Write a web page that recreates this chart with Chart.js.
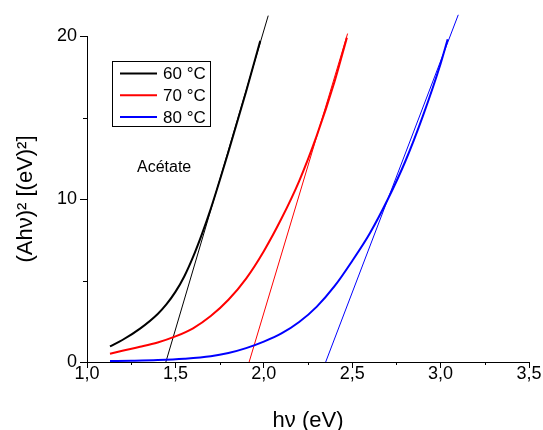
<!DOCTYPE html>
<html>
<head>
  <meta charset="utf-8">
  <title>Tauc - Acétate</title>
  <script src="https://cdn.jsdelivr.net/npm/chart.js"></script>
  <style>
    * { margin: 0; padding: 0; box-sizing: border-box; }
    html, body { width: 100%; height: 100%; background: #fff; }
    #wrap { width: 543px; height: 430px; }
  </style>
</head>
<body>
  <div id="wrap"><canvas id="tauc" width="543" height="430"></canvas></div>
  <script>
    // hv (eV) et (A hv)^2 ((eV)^2)
    const hv60 = [1.13, 1.2, 1.3, 1.4, 1.45, 1.5, 1.55, 1.6, 1.65, 1.7, 1.8, 1.9, 1.98];
    const ah60 = [0.96, 1.35, 2.05, 2.95, 3.55, 4.3, 5.25, 6.45, 7.85, 9.4, 12.9, 16.6, 19.7];

    const hv70 = [1.13, 1.2, 1.3, 1.4, 1.5, 1.6, 1.7, 1.8, 1.9, 2.0, 2.1, 2.2, 2.3, 2.4, 2.47];
    const ah70 = [0.51, 0.69, 0.93, 1.2, 1.57, 2.07, 2.82, 3.82, 5.12, 6.8, 8.8, 11.1, 13.9, 17.2, 19.9];

    const hv80 = [1.13, 1.25, 1.4, 1.55, 1.7, 1.8, 1.9, 2.0, 2.1, 2.2, 2.3, 2.4, 2.5, 2.6, 2.7, 2.8, 2.9, 3.0, 3.04];
    const ah80 = [0.06, 0.08, 0.12, 0.2, 0.35, 0.55, 0.85, 1.25, 1.75, 2.45, 3.4, 4.65, 6.2, 7.9, 9.95, 12.3, 15.1, 18.3, 19.8];

    // droites d'extrapolation (debut, fin)
    const fit60X = [1.446, 2.025], fit60Y = [0, 21.25];
    const fit70X = [1.917, 2.474], fit70Y = [0, 20.15];
    const fit80X = [2.35, 3.10], fit80Y = [0, 21.3];

    const seriesLabels = ['60 °C', '70 °C', '80 °C'];
    const seriesColors = ['#000000', '#ff0000', '#0000ff'];
    const sampleName = 'Acétate';

    const xTickValues = [1.0, 1.5, 2.0, 2.5, 3.0, 3.5];
    const xTickLabels = ['1,0', '1,5', '2,0', '2,5', '3,0', '3,5'];
    const xMinor = [1.25, 1.75, 2.25, 2.75, 3.25];
    const yTickValues = [0, 10, 20];
    const yTickLabels = ['0', '10', '20'];
    const yMinor = [5, 15];

    const FONT = "'Liberation Sans', Arial, sans-serif";

    function pts(xs, ys) {
      return xs.map((v, i) => ({ x: v, y: ys[i] }));
    }

    function curve(label, xs, ys, color) {
      return {
        label: label, data: pts(xs, ys), showLine: true, clip: false,
        borderColor: color, backgroundColor: color, borderWidth: 2,
        pointRadius: 0, cubicInterpolationMode: 'monotone', fill: false
      };
    }
    function fitLine(xs, ys, color) {
      return {
        label: '', data: pts(xs, ys), showLine: true, clip: false,
        borderColor: color, borderWidth: 1, pointRadius: 0, fill: false
      };
    }

    // ticks secondaires, legende et nom de l'echantillon
    const decor = {
      id: 'decor',
      afterDraw(chart) {
        const { ctx, scales: { x, y } } = chart;
        ctx.save();
        ctx.strokeStyle = '#000';
        ctx.lineWidth = 1;
        ctx.beginPath();
        xMinor.forEach(v => {
          const px = Math.round(x.getPixelForValue(v)) + 0.5;
          ctx.moveTo(px, y.bottom); ctx.lineTo(px, y.bottom + 3);
        });
        yMinor.forEach(v => {
          const py = Math.round(y.getPixelForValue(v)) + 0.5;
          ctx.moveTo(x.left, py); ctx.lineTo(x.left - 4, py);
        });
        ctx.stroke();

        // legende
        ctx.strokeRect(112.5, 61.5, 98, 65);
        ctx.font = '17px ' + FONT;
        ctx.textBaseline = 'middle';
        ctx.fillStyle = '#000';
        seriesLabels.forEach((lab, i) => {
          const ly = 73.5 + i * 21.7;
          ctx.strokeStyle = seriesColors[i];
          ctx.lineWidth = 2;
          ctx.beginPath();
          ctx.moveTo(120, ly); ctx.lineTo(157, ly);
          ctx.stroke();
          ctx.fillText(lab, 163, ly + 1);
        });

        ctx.font = '16px ' + FONT;
        ctx.fillText(sampleName, 137, 168);
        ctx.restore();
      }
    };

    const ctx = document.getElementById('tauc').getContext('2d');
    new Chart(ctx, {
      type: 'scatter',
      data: {
        datasets: [
          curve(seriesLabels[0], hv60, ah60, seriesColors[0]),
          curve(seriesLabels[1], hv70, ah70, seriesColors[1]),
          curve(seriesLabels[2], hv80, ah80, seriesColors[2]),
          fitLine(fit60X, fit60Y, seriesColors[0]),
          fitLine(fit70X, fit70Y, seriesColors[1]),
          fitLine(fit80X, fit80Y, seriesColors[2])
        ]
      },
      options: {
        responsive: false,
        animation: false,
        layout: { padding: { top: 36, right: 14, left: 0, bottom: 0 } },
        plugins: { legend: { display: false }, tooltip: { enabled: false } },
        scales: {
          x: {
            type: 'linear', min: 1.0, max: 3.5,
            afterBuildTicks: s => { s.ticks = xTickValues.map(v => ({ value: v })); },
            afterFit: s => { s.height = 68; },
            ticks: {
              callback: (v, i) => xTickLabels[i],
              color: '#000', padding: -3,
              font: { family: FONT, size: 18, lineHeight: 1.0 },
              maxRotation: 0
            },
            grid: { drawOnChartArea: false, drawTicks: true, tickLength: 6, color: '#000' },
            border: { display: true, color: '#000', width: 1 },
            title: {
              display: true, text: 'hν (eV)', color: '#000',
              font: { family: FONT, size: 22 }, padding: { top: 0, bottom: -4 }
            }
          },
          y: {
            type: 'linear', min: 0, max: 20,
            afterBuildTicks: s => { s.ticks = yTickValues.map(v => ({ value: v })); },
            afterFit: s => { s.width = 87; },
            ticks: {
              callback: (v, i) => yTickLabels[i],
              color: '#000', padding: 3,
              font: { family: FONT, size: 18 }
            },
            grid: { drawOnChartArea: false, drawTicks: true, tickLength: 7, color: '#000' },
            border: { display: true, color: '#000', width: 1 },
            title: {
              display: true, text: '(Ahν)² [(eV)²]', color: '#000',
              font: { family: FONT, size: 22 }, padding: { top: 13, bottom: 0 }
            }
          }
        }
      },
      plugins: [decor]
    });
  </script>
</body>
</html>
